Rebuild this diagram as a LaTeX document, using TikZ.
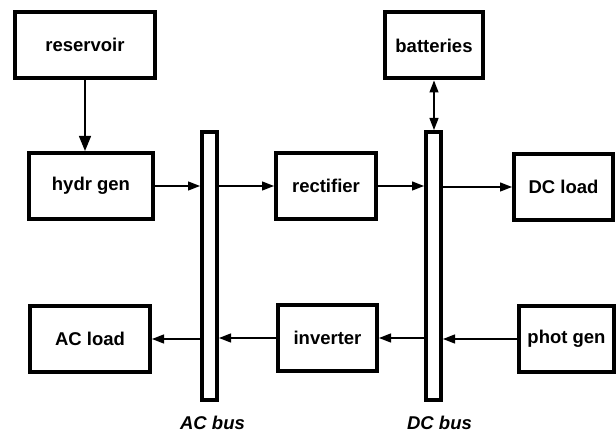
\documentclass[tikz,border=0pt]{standalone}
\usepackage{fontspec}
\setmainfont{Liberation Sans}
\usetikzlibrary{arrows.meta,positioning}

\begin{document}
\begin{tikzpicture}[x=1pt, y=-1pt, every node/.style={font=\fontsize{18.5}{22}\selectfont\bfseries}, >={Triangle[length=12pt,width=9pt]},
	unit/.style={draw, line width=4pt, minimum height=66pt, inner sep=0pt},
	bus/.style={draw, line width=4pt, minimum width=15pt, minimum height=268pt, inner sep=0pt},
	buslabel/.style={font=\fontsize{18.5}{22}\selectfont\bfseries\itshape, inner sep=0pt},
	link/.style={line width=1.3pt}]
	\useasboundingbox (0,0) rectangle (616,435);
	% buses
	\node[bus] (acbus) at (209.5,266) {};
	\node[bus] (dcbus) at (433.5,266) {};
	\node[buslabel, below=14pt of acbus, xshift=3pt] (aclabel) {AC bus};
	\node[buslabel, below=14pt of dcbus, xshift=6pt] (dclabel) {DC bus};
	% units
	\node[unit, minimum width=140pt] (res) at (85,45) {reservoir};
	\node[unit, minimum width=124pt] (hydr) at (91,186) {hydr gen};
	\node[unit, minimum width=100pt] (rect) at (326,186) {rectifier};
	\node[unit, minimum width=98pt] (bat) at (434,45.5) {batteries};
	\node[unit, minimum width=99pt] (dcload) at (563.5,187) {DC load};
	\node[unit, minimum width=120pt] (acload) at (90,339) {AC load};
	\node[unit, minimum width=99pt] (inv) at (327.5,338) {inverter};
	\node[unit, minimum width=95pt] (phot) at (566.5,339) {phot gen};
	% connections
	\draw[link, -{Triangle[length=15pt,width=12pt]}] (res.south) -- (res.south |- hydr.north);
	\draw[link, <->] (bat.south) -- (bat.south |- dcbus.north);
	\draw[link, ->] (hydr.east) -- (hydr -| acbus.west);
	\draw[link, ->] (acbus.east |- rect) -- (rect.west);
	\draw[link, ->] (rect.east) -- (rect -| dcbus.west);
	\draw[link, ->] (dcbus.east |- dcload) -- (dcload.west);
	\draw[link, ->] (phot.west) -- (phot -| dcbus.east);
	\draw[link, ->] (dcbus.west |- inv) -- (inv.east);
	\draw[link, ->] (inv.west) -- (inv -| acbus.east);
	\draw[link, ->] (acbus.west |- acload) -- (acload.east);
\end{tikzpicture}
\end{document}
